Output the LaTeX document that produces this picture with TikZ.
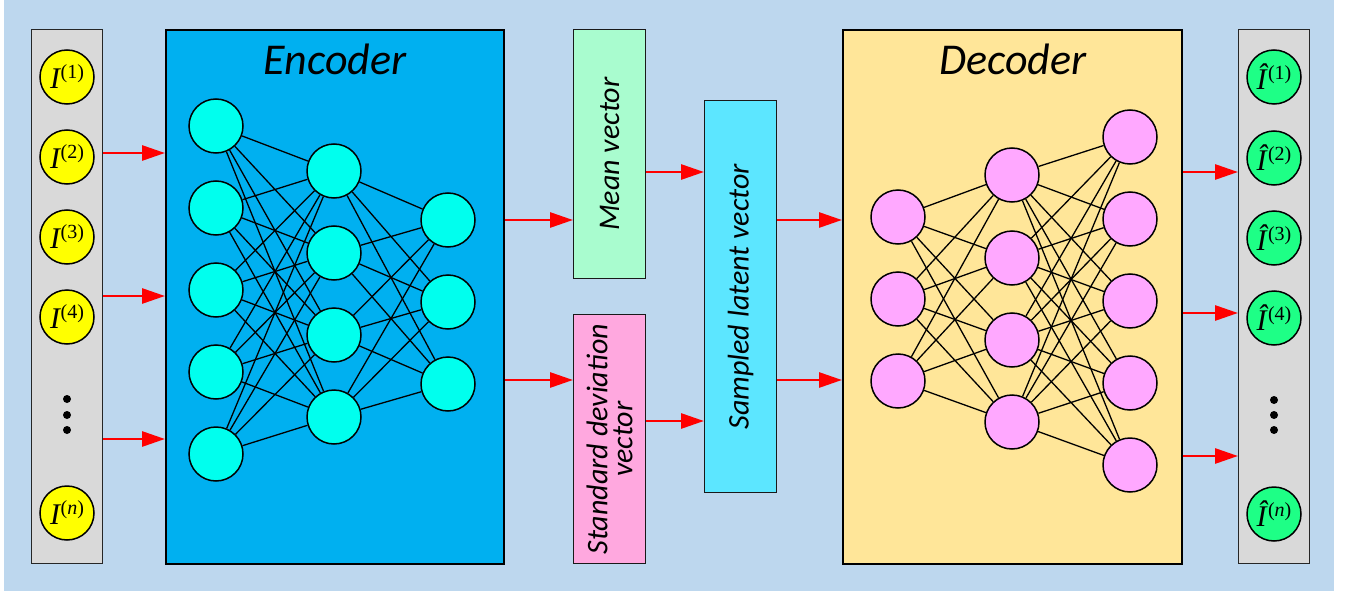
\documentclass[tikz,border=0pt]{standalone}
\usepackage{fontspec}
\setmainfont{Liberation Serif}
\newfontfamily\labelfont{Carlito}
\usetikzlibrary{arrows.meta}

\definecolor{bgblue}{HTML}{BDD7EE}
\definecolor{panelgray}{HTML}{D9D9D9}
\definecolor{encblue}{HTML}{00B0F0}
\definecolor{decyellow}{HTML}{FFE699}
\definecolor{meangreen}{HTML}{A9FCCF}
\definecolor{stdpink}{HTML}{FFA8DF}
\definecolor{latentcyan}{HTML}{5CE6FF}
\definecolor{cellcyan}{HTML}{00FFEE}
\definecolor{cellpink}{HTML}{FFA8FF}
\definecolor{inyellow}{HTML}{FFFF00}
\definecolor{outgreen}{HTML}{1EFF86}

\newcommand\inlab[1]{\fontsize{30}{30}\selectfont\textit{I}\kern-0.5pt\raisebox{10pt}{\fontsize{20}{20}\selectfont(#1)}}
\newcommand\outlab[1]{\fontsize{30}{30}\selectfont\textit{Î}\kern-0.5pt\raisebox{10pt}{\fontsize{20}{20}\selectfont(#1)}}

\begin{document}
\begin{tikzpicture}[x=1pt,y=-1pt,
  panel/.style={draw=black!85, line width=1pt, fill=panelgray, anchor=north west, inner sep=0pt},
  block/.style={draw=black, line width=1.6pt, anchor=north west, inner sep=0pt},
  vecbox/.style={draw=black!90, line width=1.3pt, anchor=north west, inner sep=0pt},
  neuron/.style={circle, draw=black, line width=1.5pt, minimum size=54pt, inner sep=0pt},
  link/.style={draw=black, line width=1.3pt},
  flow/.style={draw=red, line width=2.8pt, -{Triangle[length=23pt,width=15pt]}},
  titletext/.style={font=\labelfont\itshape\fontsize{44}{44}\selectfont, anchor=base},
  vectext/.style={font=\labelfont\itshape\fontsize{30}{25}\selectfont, rotate=90, align=center, inner sep=0pt},
  dot/.style={circle, fill=black, minimum size=8pt, inner sep=0pt}
]
\useasboundingbox (0,0) rectangle (1346,591);
\fill[bgblue] (4,0) rectangle (1334,591);

% outer blocks
\node[panel, minimum width=71pt, minimum height=534pt] (inpanel) at (31,29) {};
\node[block, fill=encblue, minimum width=338pt, minimum height=534pt] (encoder) at (165,29) {};
\node[vecbox, fill=meangreen, minimum width=72pt, minimum height=249pt] (mean) at (573,29) {};
\node[vecbox, fill=stdpink, minimum width=72pt, minimum height=249pt] (std) at (573,314) {};
\node[vecbox, fill=latentcyan, minimum width=72pt, minimum height=392pt] (latent) at (704,100) {};
\node[block, fill=decyellow, minimum width=339pt, minimum height=534pt] (decoder) at (842,29) {};
\node[panel, minimum width=71pt, minimum height=534pt] (outpanel) at (1238,29) {};

% titles and vector labels
\node[titletext] (enctitle) at (335,75) {Encoder};
\node[titletext] (dectitle) at (1013,75) {Decoder};
\node[vectext] (meantext) at (mean.center) {Mean vector};
\node[vectext] (stdtext) at (std.center) {Standard deviation\\vector};
\node[vectext] (latenttext) at (latent.center) {Sampled latent vector};

% input samples
\foreach \y/\t [count=\i] in {77/1,157/2,237/3,317/4}
  \node[neuron, fill=inyellow] (in\i) at (67,\y) {\inlab{\t}};
\node[neuron, fill=inyellow] (inn) at (67,513) {\inlab{\textit{n}}};
\foreach \y [count=\i] in {399,415,430}
  \node[dot] (indot\i) at (67,\y) {};

% reconstructed samples
\foreach \y/\t [count=\i] in {77/1,158/2,238/3,318/4}
  \node[neuron, fill=outgreen] (out\i) at (1274,\y) {\outlab{\t}};
\node[neuron, fill=outgreen] (outn) at (1274,514) {\outlab{\textit{n}}};
\foreach \y [count=\i] in {400,415,430}
  \node[dot] (outdot\i) at (1274,\y) {};

% encoder network
\foreach \y [count=\i] in {126,208,290,372,454}
  \node[neuron, fill=cellcyan] (ea\i) at (216,\y) {};
\foreach \y [count=\i] in {171,253,335,417}
  \node[neuron, fill=cellcyan] (eb\i) at (334,\y) {};
\foreach \y [count=\i] in {220,302,384}
  \node[neuron, fill=cellcyan] (ec\i) at (448,\y) {};
\foreach \i in {1,...,5}
  \foreach \j in {1,...,4}
    \draw[link] (ea\i) -- (eb\j);
\foreach \i in {1,...,4}
  \foreach \j in {1,...,3}
    \draw[link] (eb\i) -- (ec\j);

% decoder network
\foreach \y [count=\i] in {217,299,381}
  \node[neuron, fill=cellpink] (da\i) at (898,\y) {};
\foreach \y [count=\i] in {175,258,340,422}
  \node[neuron, fill=cellpink] (db\i) at (1012,\y) {};
\foreach \y [count=\i] in {137,219,301,383,465}
  \node[neuron, fill=cellpink] (dc\i) at (1130,\y) {};
\foreach \i in {1,...,3}
  \foreach \j in {1,...,4}
    \draw[link] (da\i) -- (db\j);
\foreach \i in {1,...,4}
  \foreach \j in {1,...,5}
    \draw[link] (db\i) -- (dc\j);

% data flow
\foreach \y in {153,296,439}
  \draw[flow] (inpanel.east |- 0,\y) -- (encoder.west |- 0,\y);
\draw[flow] (encoder.east |- 0,220) -- (mean.west |- 0,220);
\draw[flow] (encoder.east |- 0,380) -- (std.west |- 0,380);
\draw[flow] (mean.east |- 0,172) -- (latent.west |- 0,172);
\draw[flow] (std.east |- 0,421) -- (latent.west |- 0,421);
\draw[flow] (latent.east |- 0,220) -- (decoder.west |- 0,220);
\draw[flow] (latent.east |- 0,380) -- (decoder.west |- 0,380);
\foreach \y in {172,313,456}
  \draw[flow] (decoder.east |- 0,\y) -- (outpanel.west |- 0,\y);
\end{tikzpicture}
\end{document}
